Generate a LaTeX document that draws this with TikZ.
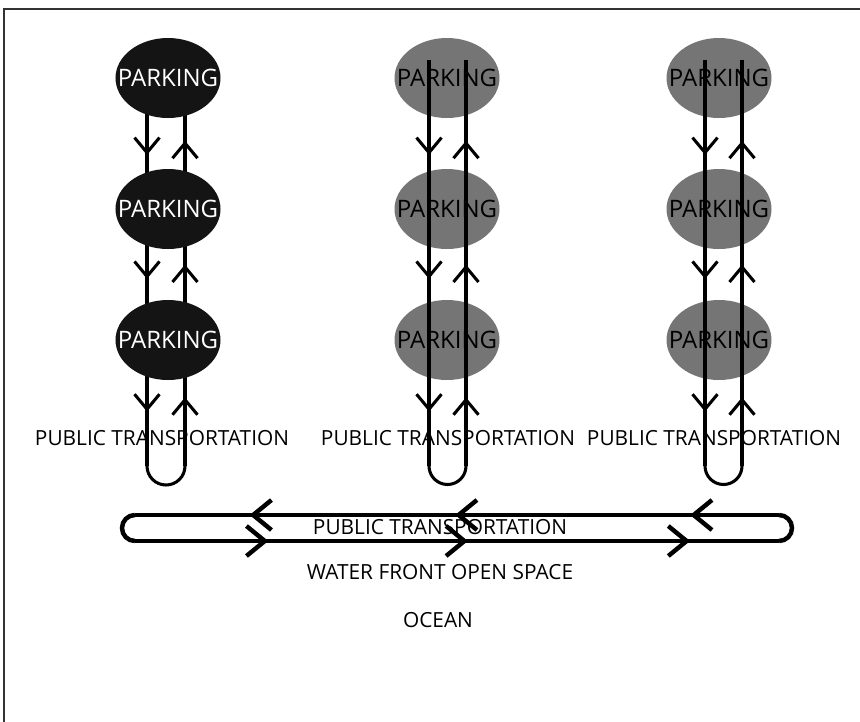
\documentclass[tikz,border=0pt]{standalone}
\usepackage{fontspec}
\setmainfont{Open Sans}
\usetikzlibrary{shapes.geometric,arrows.meta,decorations.markings}

\definecolor{lotdark}{gray}{0.08}
\definecolor{lotgray}{gray}{0.46}

\tikzset{
  lot/.style={ellipse, minimum width=3.15cm, minimum height=2.4cm,
    inner xsep=-0.42cm, inner ysep=0pt, font=\fontsize{20.5}{20.5}\selectfont},
  lane/.style={line width=2.6pt},
  road/.style={line width=3.8pt},
  label/.style={font=\fontsize{17.8}{17.8}\selectfont, inner sep=0pt},
  downlane/.style={lane, postaction={decorate}, decoration={markings,
    mark=at position 0.234 with {\arrow{Straight Barb[length=0.45cm, width=0.75cm]}},
    mark=at position 0.539 with {\arrow{Straight Barb[length=0.45cm, width=0.75cm]}},
    mark=at position 0.866 with {\arrow{Straight Barb[length=0.45cm, width=0.75cm]}}}},
  uplane/.style={lane, postaction={decorate}, decoration={markings,
    mark=at position 0.169 with {\arrow{Straight Barb[length=0.45cm, width=0.75cm]}},
    mark=at position 0.496 with {\arrow{Straight Barb[length=0.45cm, width=0.75cm]}},
    mark=at position 0.801 with {\arrow{Straight Barb[length=0.45cm, width=0.75cm]}}}},
}

\begin{document}
\begin{tikzpicture}[x=0.03cm, y=-0.03cm]
  \useasboundingbox (0,0) rectangle (860,722);
  \draw[line width=0.9pt, black!80] (4,722) -- (4,9) -- (860,9);

  % bus stop labels under each parking column
  \node (t1) [label] at (162,438) {PUBLIC TRANSPORTATION};
  \node (t2) [label] at (448,438) {PUBLIC TRANSPORTATION};
  \node (t3) [label] at (714,438) {PUBLIC TRANSPORTATION};

  % first column: lanes hidden under dark lots
  \coordinate (a1) at (147,60);  \coordinate (b1) at (147,466);
  \coordinate (c1) at (185,466); \coordinate (d1) at (185,60);
  \draw[downlane] (a1) -- (b1);
  \draw[uplane] (c1) -- (d1);
  \draw[lane] (b1) arc[start angle=180, end angle=360, radius=0.57cm];
  \node (11) [lot, fill=lotdark, text=white] at (168,78) {PARKING};
  \node (12) [lot, fill=lotdark, text=white] at (168,209) {PARKING};
  \node (13) [lot, fill=lotdark, text=white] at (168,340) {PARKING};

  % second and third column: lanes run over the lots
  \node (21) [lot, fill=lotgray] at (447,78) {PARKING};
  \node (22) [lot, fill=lotgray] at (447,209) {PARKING};
  \node (23) [lot, fill=lotgray] at (447,340) {PARKING};
  \coordinate (a2) at (429,60);  \coordinate (b2) at (429,466);
  \coordinate (c2) at (466,466); \coordinate (d2) at (466,60);
  \draw[downlane] (a2) -- (b2);
  \draw[uplane] (c2) -- (d2);
  \draw[lane] (b2) arc[start angle=180, end angle=360, radius=0.555cm];

  \node (31) [lot, fill=lotgray] at (719,78) {PARKING};
  \node (32) [lot, fill=lotgray] at (719,209) {PARKING};
  \node (33) [lot, fill=lotgray] at (719,340) {PARKING};
  \coordinate (a3) at (705,60);  \coordinate (b3) at (705,466);
  \coordinate (c3) at (742,466); \coordinate (d3) at (742,60);
  \draw[downlane] (a3) -- (b3);
  \draw[uplane] (c3) -- (d3);
  \draw[lane] (b3) arc[start angle=180, end angle=360, radius=0.555cm];

  % waterfront loop
  \coordinate (ne) at (779,515); \coordinate (nw) at (135,515);
  \coordinate (sw) at (135,541); \coordinate (se) at (779,541);
  \draw[road, postaction={decorate}, decoration={markings,
    mark=at position 0.138 with {\arrow{Straight Barb[length=0.55cm, width=0.9cm]}},
    mark=at position 0.503 with {\arrow{Straight Barb[length=0.55cm, width=0.9cm]}},
    mark=at position 0.822 with {\arrow{Straight Barb[length=0.55cm, width=0.9cm]}}}]
    (ne) -- (nw);
  \draw[road, postaction={decorate}, decoration={markings,
    mark=at position 0.207 with {\arrow{Straight Barb[length=0.55cm, width=0.9cm]}},
    mark=at position 0.517 with {\arrow{Straight Barb[length=0.55cm, width=0.9cm]}},
    mark=at position 0.862 with {\arrow{Straight Barb[length=0.55cm, width=0.9cm]}}}]
    (sw) -- (se);
  \draw[road] (nw) arc[start angle=90, end angle=270, radius=0.39cm];
  \draw[road] (se) arc[start angle=-90, end angle=90, radius=0.39cm];

  \node (t4) [label] at (440,527) {PUBLIC TRANSPORTATION};
  \node (w) [label] at (440,572) {WATER FRONT OPEN SPACE};
  \node (o) [label] at (438,620) {OCEAN};
\end{tikzpicture}
\end{document}
